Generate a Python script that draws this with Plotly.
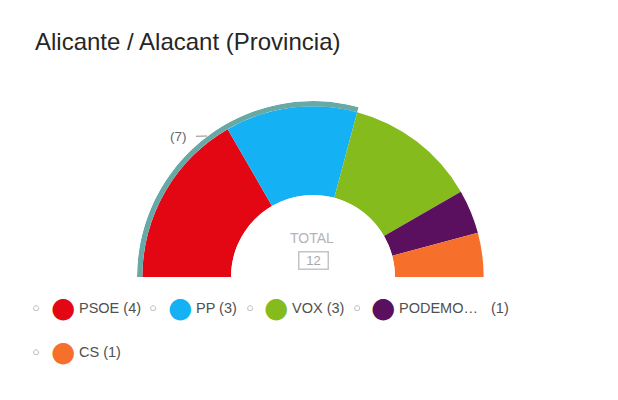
import plotly.graph_objects as go

# ---- data ----
parties = ["PSOE", "PP", "VOX", "PODEMO\u2026", "CS"]
seats = [4, 3, 3, 1, 1]
colors = ["#E30613", "#14B1F5", "#86BB1D", "#5A0F5F", "#F7702B"]
majority_seats = 7
title_text = "Alicante / Alacant (Provincia)"
total_label = "TOTAL"

total = sum(seats)
deg_per_seat = 180.0 / total

# angular positions derived from seat counts
thetas, widths = [], []
cum = 0
for s in seats:
    thetas.append((cum + s / 2.0) * deg_per_seat)
    widths.append(s * deg_per_seat)
    cum += s

W, H = 618, 400
def px(x):
    return x / W
def py(y):
    return 1 - y / H

fig = go.Figure()

for name, s, t, w, c in zip(parties, seats, thetas, widths, colors):
    fig.add_trace(go.Barpolar(
        r=[1.0], theta=[t], width=[w], base=[0],
        marker=dict(color=c, line=dict(width=0)),
        name=name, showlegend=False, hoverinfo="skip",
    ))

# majority arc
fig.add_trace(go.Barpolar(
    r=[0.06], theta=[majority_seats * deg_per_seat / 2.0],
    width=[majority_seats * deg_per_seat], base=[1.0],
    marker=dict(color="#66A9A6", line=dict(width=0)),
    showlegend=False, hoverinfo="skip",
))

annotations = []

def ann(x, y, text, size, color, family="Arial, Liberation Sans", xanchor="center", **kw):
    d = dict(x=px(x), y=py(y), xref="paper", yref="paper", text=text,
             xanchor=xanchor, yanchor="middle", showarrow=False,
             font=dict(family=family, size=size, color=color))
    d.update(kw)
    annotations.append(d)

# centre label
ann(312, 238, total_label, 14, "#b4b4b4")
ann(313.7, 260, str(total), 13, "#a8a8a8",
    bordercolor="#c4c4c4", borderwidth=1.5, borderpad=0, width=28, height=16)

# majority label
annotations.append(dict(
    x=px(207), y=py(136), xref="paper", yref="paper",
    text=f"({majority_seats})", showarrow=True, arrowhead=0, arrowwidth=1,
    arrowcolor="#8a8a8a", ax=-29, ay=0.7, borderpad=9,
    font=dict(family="Arial, Liberation Sans", size=13.5, color="#666666"),
))

# legend (layout positions)
bullet_x = [35.7, 153.3, 250.0, 357.3, 35.7]
dot_x = [62.7, 180.0, 276.0, 383.0, 62.7]
text_x = [77.3, 194.0, 290.0, 397.0, 77.3]
row_y = [307.7, 307.7, 307.7, 307.7, 351.7]
seat_x_split = 489.0

for i, (name, s, c) in enumerate(zip(parties, seats, colors)):
    yy = row_y[i]
    ann(bullet_x[i], yy, "\u25cb", 7, "#666666", family="DejaVu Sans")
    ann(dot_x[i], yy, "\u25cf", 28, c, family="DejaVu Sans")
    if name.endswith("\u2026"):
        ann(text_x[i], yy, name, 14.5, "#505050", xanchor="left")
        ann(seat_x_split, yy, f"({s})", 14.5, "#505050", xanchor="left")
    else:
        ann(text_x[i], yy, f"{name} ({s})", 14.5, "#505050", xanchor="left")

fig.update_layout(
    width=W, height=H,
    margin=dict(l=0, r=0, t=0, b=0),
    paper_bgcolor="white", plot_bgcolor="white",
    title=dict(text=title_text, x=px(35), xanchor="left", xref="paper",
               y=py(41.7), yanchor="middle", yref="container",
               font=dict(family="Arial, Liberation Sans", size=24, color="#262626")),
    polar=dict(
        domain=dict(x=[px(137), px(489)], y=[py(277), py(101)]),
        sector=[0, 180], hole=0.466, bgcolor="rgba(0,0,0,0)", bargap=0,
        radialaxis=dict(visible=False, range=[0, 1.06]),
        angularaxis=dict(visible=False, direction="clockwise", rotation=180,
                         showgrid=False, showline=False, showticklabels=False, ticks=""),
    ),
    annotations=annotations,
    showlegend=False,
)

fig.write_html("out.html")
